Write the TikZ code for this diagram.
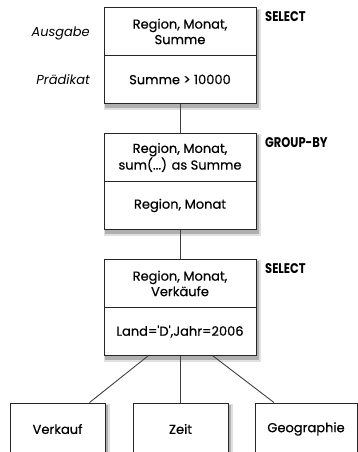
\documentclass[tikz,border=0pt]{standalone}
\usepackage{fontspec}
\setmainfont{Poppins}
\newfontfamily\boxfont{Poppins}[FakeBold=0.4]
\newfontfamily\opfont{Poppins}[UprightFeatures={FakeBold=1.5}]
\tikzset{
  part/.style={draw=black!85, line width=0.9pt, fill=white, minimum width=152pt, minimum height=48pt, inner sep=0pt, align=center, font=\boxfont\fontsize{13}{15.5}\selectfont},
  leaf/.style={draw=black!85, line width=0.9pt, fill=white, minimum width=95pt, minimum height=52pt, inner sep=0pt, align=center, font=\boxfont\fontsize{13}{15.5}\selectfont},
  side/.style={font=\fontsize{13}{15}\selectfont\itshape, anchor=east, inner sep=0pt},
  op/.style={font=\opfont\fontsize{14}{16}\selectfont\bfseries, anchor=west, inner sep=0pt},
  conn/.style={draw=black!75, line width=0.9pt},
  shadowbox/.style={fill=black, opacity=0.22}
}
\newcommand{\opname}[1]{\scalebox{0.82}[1]{#1}}
\begin{document}
\begin{tikzpicture}[x=1pt,y=-1pt]
\useasboundingbox (0,0) rectangle (358,452);
% shadows behind boxes
\foreach \a/\b/\c/\d in {104/8/256/104, 104/133/256/230, 104/259/256/356, 10/403/105/460, 133/403/228/460, 255/403/357/460}{
  \fill[shadowbox] (\a+1,\b+2) rectangle (\c+3,\d+4);
  \fill[shadowbox, opacity=0.12] (\a+0,\b+1) rectangle (\c+4.5,\d+6);
}

\node[part] (s1a) at (180,31.5) {Region, Monat,\\Summe};
\node[part] (s1b) at (180,79.5) {Summe > 10000};
\node[part] (g1a) at (180,157.5) {Region, Monat,\\sum(...) as Summe};
\node[part] (g1b) at (180,205.5) {Region, Monat};
\node[part] (s2a) at (180,283.5) {Region, Monat,\\Verkäufe};
\node[part] (s2b) at (180,331.5) {Land='D',Jahr=2006};

\node[leaf] (verkauf) at (57.5,429) {Verkauf};
\node[leaf] (zeit) at (180.5,429) {Zeit};
\node[leaf, minimum width=102pt] (geo) at (306,429) {Geographie};

\node[side] (ausgabe) at (90,33) {Ausgabe};
\node[side] (praedikat) at (90,80) {Prädikat};

\node[op] (sel1) at (265,17) {\opname{SELECT}};
\node[op] (grp) at (265,143) {\opname{GROUP-BY}};
\node[op] (sel2) at (265,269) {\opname{SELECT}};

\draw[conn] (s1b.south) -- (g1a.north);
\draw[conn] (g1b.south) -- (s2a.north);
\draw[conn] ([xshift=-32pt]s2b.south) -- ([xshift=32pt]verkauf.north);
\draw[conn] (s2b.south) -- (zeit.north -| s2b.south);
\draw[conn] ([xshift=33pt]s2b.south) -- ([xshift=-32pt]geo.north);
\end{tikzpicture}
\end{document}
